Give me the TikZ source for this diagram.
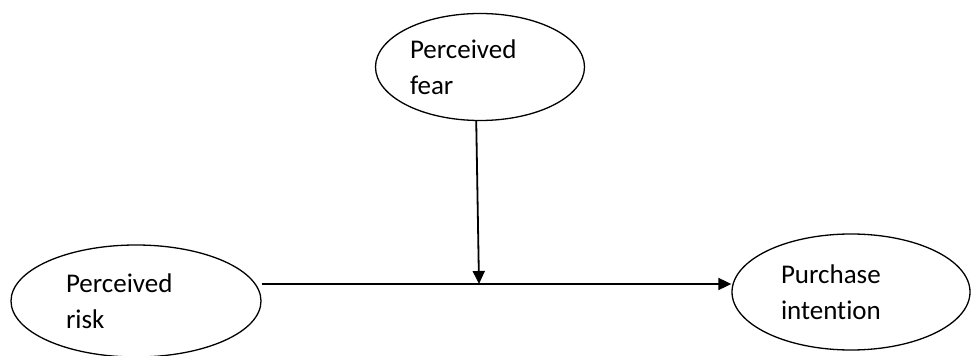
\documentclass[tikz,border=0pt]{standalone}
\usepackage{fontspec}
\setmainfont[Ligatures=NoCommon]{Carlito}
\usepackage{tikz}
\usetikzlibrary{arrows.meta,positioning,shapes.geometric}
\tikzset{
  construct/.style={ellipse,draw=black,line width=1.3pt,inner sep=0pt,
    text width=140pt,align=left,font=\fontsize{27}{36}\selectfont},
  link/.style={-{Triangle[length=13pt,width=12pt]},line width=1.8pt,draw=black},
}

\begin{document}
\begin{tikzpicture}[x=1pt,y=1pt]
  \useasboundingbox (0,0) rectangle (972,356);
  \node[construct,minimum width=209pt,minimum height=107pt](fear) at (480,289){Perceived\\fear};
  \node[construct,minimum width=250pt,minimum height=112pt](risk) at (136,55){Perceived\\risk};
  \node[construct,minimum width=238pt,minimum height=116pt](intent) at (851,64){Purchase\\intention};
  \coordinate (meet) at (479,72);
  \draw[link](risk.east |- meet)--(intent.west |- meet);
  \draw[link](fear.266)--(meet);
\end{tikzpicture}
\end{document}
